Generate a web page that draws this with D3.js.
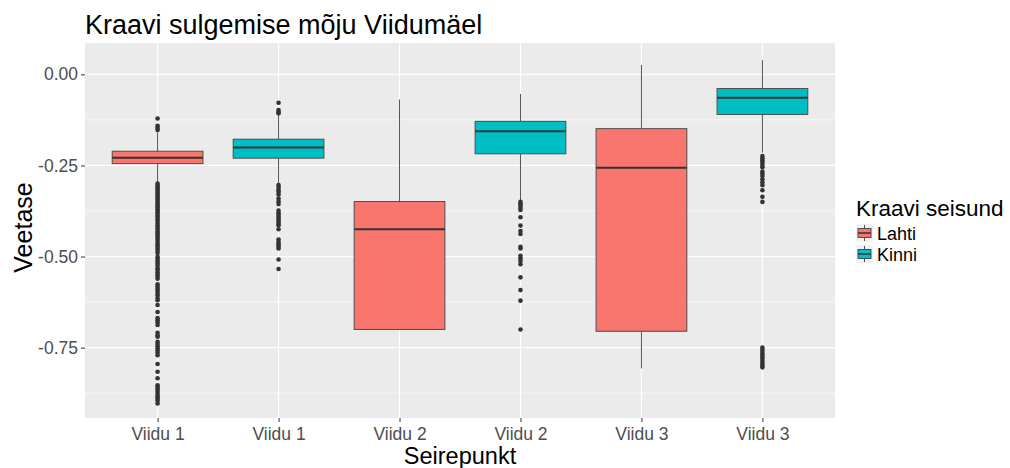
<!DOCTYPE html>
<html>
<head>
<meta charset="utf-8">
<script src="https://cdn.jsdelivr.net/npm/d3@7"></script>
<style>
  body { margin: 0; background: #fff; }
  svg { display: block; }
</style>
</head>
<body>
<script>
var width = 1010;
var height = 468;

// one box per (seirepunkt, seisund) pair
var categories = ["Viidu 1", "Viidu 1", "Viidu 2", "Viidu 2", "Viidu 3", "Viidu 3"];
var states = ["Lahti", "Kinni", "Lahti", "Kinni", "Lahti", "Kinni"];
var whiskerHigh = [-0.160, -0.112, -0.069, -0.054, 0.026, 0.039];
var q3 = [-0.211, -0.178, -0.349, -0.129, -0.149, -0.039];
var median = [-0.229, -0.201, -0.425, -0.156, -0.256, -0.064];
var q1 = [-0.245, -0.230, -0.700, -0.218, -0.705, -0.110];
var whiskerLow = [-0.297, -0.299, -0.700, -0.345, -0.807, -0.215];
var outliers = [
  [-0.121, -0.141, -0.147, -0.153,
   -0.300, -0.305, -0.310, -0.315, -0.320, -0.325, -0.330, -0.335, -0.340, -0.345,
   -0.350, -0.355, -0.360, -0.365, -0.370, -0.375, -0.380, -0.385, -0.390,
   -0.396, -0.402, -0.408, -0.414, -0.420, -0.426, -0.432, -0.437,
   -0.442, -0.448, -0.454, -0.460, -0.466, -0.472, -0.478, -0.484, -0.490,
   -0.501, -0.507, -0.513, -0.519, -0.525, -0.532, -0.537, -0.543, -0.549, -0.555, -0.561,
   -0.576, -0.582, -0.588, -0.594, -0.600, -0.606, -0.614, -0.620, -0.633, -0.652,
   -0.669, -0.675, -0.681, -0.688, -0.709, -0.716, -0.720,
   -0.734, -0.740, -0.746, -0.752, -0.758, -0.764, -0.771, -0.795, -0.816, -0.834,
   -0.853, -0.859, -0.865, -0.871, -0.877, -0.883, -0.889, -0.895, -0.903],
  [-0.078, -0.098, -0.103, -0.107,
   -0.304, -0.311, -0.318, -0.323, -0.330, -0.341, -0.349, -0.356,
   -0.374, -0.381, -0.386, -0.392, -0.398, -0.404, -0.410, -0.414, -0.425,
   -0.453, -0.460, -0.466, -0.472, -0.478, -0.508, -0.534],
  [],
  [-0.350, -0.355, -0.360, -0.366, -0.372, -0.392, -0.415, -0.430, -0.438,
   -0.473, -0.478, -0.498, -0.505, -0.512, -0.521, -0.557, -0.592, -0.621, -0.700],
  [],
  [-0.224, -0.230, -0.236, -0.242, -0.249, -0.255, -0.267, -0.273, -0.279,
   -0.288, -0.296, -0.304, -0.318, -0.336, -0.350,
   -0.750, -0.756, -0.762, -0.768, -0.774, -0.780, -0.786, -0.792, -0.798, -0.804]
];
var yTicks = [0, -0.25, -0.5, -0.75];
var yTickLabels = ["0.00", "-0.25", "-0.50", "-0.75"];
var yMinor = [-0.125, -0.375, -0.625, -0.875];
var legendStates = ["Lahti", "Kinni"];
var stateColors = {"Lahti": "#F8766D", "Kinni": "#00BFC4"};

var boxes = categories.map(function(c, i) {
  return {i: i, cat: c, state: states[i], hi: whiskerHigh[i], q3: q3[i],
          med: median[i], q1: q1[i], lo: whiskerLow[i], out: outliers[i]};
});

var panel = {left: 85, top: 43, right: 835, bottom: 418};
var font = "'Liberation Sans', Arial, sans-serif";

var svg = d3.select("body").append("svg")
    .attr("width", width)
    .attr("height", height);

var x = d3.scalePoint()
    .domain(d3.range(categories.length))
    .range([panel.left, panel.right])
    .padding(0.6);

var y = d3.scaleLinear()
    .domain([-0.943, 0.086])
    .range([panel.bottom, panel.top]);

var boxW = x.step() * 0.75;

// panel background + grid
svg.append("rect")
    .attr("x", panel.left).attr("y", panel.top)
    .attr("width", panel.right - panel.left)
    .attr("height", panel.bottom - panel.top)
    .attr("fill", "#EBEBEB");

svg.selectAll("line.minor")
    .data(yMinor)
    .enter().append("line")
    .attr("x1", panel.left).attr("x2", panel.right)
    .attr("y1", d => y(d)).attr("y2", d => y(d))
    .attr("stroke", "#fff").attr("stroke-width", 0.6);

svg.selectAll("line.major")
    .data(yTicks)
    .enter().append("line")
    .attr("x1", panel.left).attr("x2", panel.right)
    .attr("y1", d => y(d)).attr("y2", d => y(d))
    .attr("stroke", "#fff").attr("stroke-width", 1.2);

svg.selectAll("line.vgrid")
    .data(boxes)
    .enter().append("line")
    .attr("x1", d => x(d.i)).attr("x2", d => x(d.i))
    .attr("y1", panel.top).attr("y2", panel.bottom)
    .attr("stroke", "#fff").attr("stroke-width", 1.2);

// boxes
var g = svg.selectAll("g.box")
    .data(boxes)
    .enter().append("g");

g.append("line")
    .attr("x1", d => x(d.i)).attr("x2", d => x(d.i))
    .attr("y1", d => y(d.hi)).attr("y2", d => y(d.q3))
    .attr("stroke", "#555").attr("stroke-width", 1);

g.append("line")
    .attr("x1", d => x(d.i)).attr("x2", d => x(d.i))
    .attr("y1", d => y(d.q1)).attr("y2", d => y(d.lo))
    .attr("stroke", "#555").attr("stroke-width", 1);

g.append("rect")
    .attr("x", d => x(d.i) - boxW / 2)
    .attr("y", d => y(d.q3))
    .attr("width", boxW)
    .attr("height", d => y(d.q1) - y(d.q3))
    .attr("fill", d => stateColors[d.state])
    .attr("stroke", "#4d4d4d").attr("stroke-width", 1);

g.append("line")
    .attr("x1", d => x(d.i) - boxW / 2).attr("x2", d => x(d.i) + boxW / 2)
    .attr("y1", d => y(d.med)).attr("y2", d => y(d.med))
    .attr("stroke", "#333").attr("stroke-width", 2);

g.selectAll("circle")
    .data(d => d.out.map(v => ({i: d.i, v: v})))
    .enter().append("circle")
    .attr("cx", d => x(d.i))
    .attr("cy", d => y(d.v))
    .attr("r", 2.3)
    .attr("fill", "#333");

// axes
var yAxis = svg.append("g")
    .attr("transform", "translate(" + panel.left + ",0)")
    .call(d3.axisLeft(y).tickValues(yTicks)
        .tickFormat((d, i) => yTickLabels[i]).tickSize(4).tickPadding(3));

var xAxis = svg.append("g")
    .attr("transform", "translate(0," + panel.bottom + ")")
    .call(d3.axisBottom(x).tickFormat(i => categories[i]).tickSize(4).tickPadding(6));

[yAxis, xAxis].forEach(function(a) {
  a.select(".domain").remove();
  a.selectAll(".tick line").attr("stroke", "#333").attr("stroke-width", 1);
  a.selectAll(".tick text")
      .attr("fill", "#4d4d4d")
      .style("font-family", font)
      .style("font-size", "17.5px");
});

// titles
svg.append("text")
    .attr("x", panel.left).attr("y", 34)
    .text("Kraavi sulgemise mõju Viidumäel")
    .style("font-family", font).style("font-size", "27px").attr("fill", "#000");

svg.append("text")
    .attr("x", (panel.left + panel.right) / 2).attr("y", 464)
    .attr("text-anchor", "middle")
    .text("Seirepunkt")
    .style("font-family", font).style("font-size", "23.5px").attr("fill", "#000");

svg.append("text")
    .attr("transform", "translate(32," + ((panel.top + panel.bottom) / 2 - 3) + ") rotate(-90)")
    .attr("text-anchor", "middle")
    .text("Veetase")
    .style("font-family", font).style("font-size", "25px").attr("fill", "#000");

// legend
var legend = svg.append("g").attr("transform", "translate(856,216)");
legend.append("text")
    .attr("x", 0).attr("y", 0)
    .text("Kraavi seisund")
    .style("font-family", font).style("font-size", "22.5px").attr("fill", "#000");

var items = legend.selectAll("g.item")
    .data(legendStates)
    .enter().append("g")
    .attr("transform", (d, i) => "translate(0," + (8 + i * 21) + ")");

items.append("rect")
    .attr("width", 17).attr("height", 18)
    .attr("fill", "#F2F2F2");
items.append("line")
    .attr("x1", 8.5).attr("x2", 8.5).attr("y1", 1).attr("y2", 17)
    .attr("stroke", "#4d4d4d");
items.append("rect")
    .attr("x", 2).attr("y", 4.5)
    .attr("width", 13).attr("height", 9)
    .attr("fill", d => stateColors[d])
    .attr("stroke", "#4d4d4d").attr("stroke-width", 1);
items.append("line")
    .attr("x1", 2).attr("x2", 15).attr("y1", 9).attr("y2", 9)
    .attr("stroke", "#333").attr("stroke-width", 1.5);
items.append("text")
    .attr("x", 21).attr("y", 16)
    .text(d => d)
    .style("font-family", font).style("font-size", "18px").attr("fill", "#000");
</script>
</body>
</html>
